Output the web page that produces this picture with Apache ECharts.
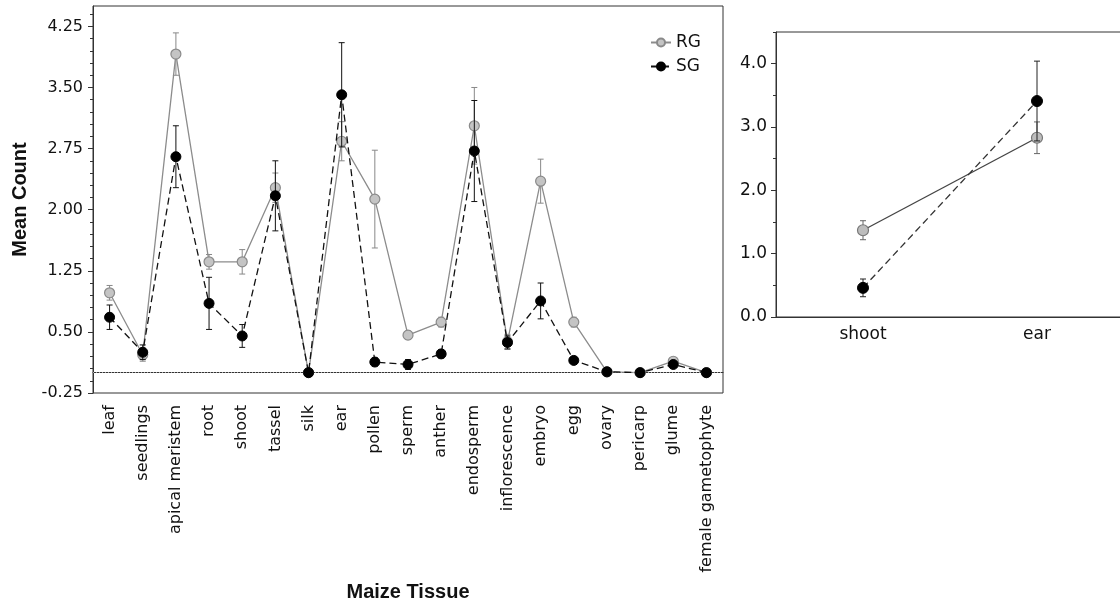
<!DOCTYPE html>
<html>
<head>
<meta charset="utf-8">
<script src="https://cdn.jsdelivr.net/npm/echarts@6/dist/echarts.min.js"></script>
<style>html,body{margin:0;padding:0;background:#fff;}#c{width:1120px;height:604px;}</style>
</head>
<body>
<div id="c"></div>
<script>
// ---- data ----
const tissues = ['leaf','seedlings','apical meristem','root','shoot','tassel','silk','ear','pollen','sperm','anther','endosperm','inflorescence','embryo','egg','ovary','pericarp','glume','female gametophyte'];
const rgMean = [0.98, 0.22, 3.91, 1.36, 1.36, 2.27, 0.00, 2.84, 2.13, 0.46, 0.62, 3.03, 0.38, 2.35, 0.62, 0.01, 0.00, 0.14, 0.00];
const rgErr  = [0.09, 0.08, 0.26, 0.09, 0.15, 0.18, 0.00, 0.24, 0.60, 0.05, 0.06, 0.47, 0.09, 0.27, 0.06, 0.01, 0.00, 0.03, 0.00];
const sgMean = [0.68, 0.25, 2.65, 0.85, 0.45, 2.17, 0.00, 3.41, 0.13, 0.10, 0.23, 2.72, 0.37, 0.88, 0.15, 0.01, 0.00, 0.10, 0.00];
const sgErr  = [0.15, 0.09, 0.38, 0.32, 0.14, 0.43, 0.00, 0.64, 0.05, 0.06, 0.05, 0.62, 0.08, 0.22, 0.03, 0.01, 0.00, 0.03, 0.00];

const subTissues = ['shoot','ear'];
const rgSubMean = [1.37, 2.83];
const rgSubErr  = [0.15, 0.25];
const sgSubMean = [0.46, 3.41];
const sgSubErr  = [0.14, 0.63];

const leftMajorTicks = [-0.25, 0.5, 1.25, 2.0, 2.75, 3.5, 4.25];
const leftMinorTicks = [-0.1, 0.05, 0.2, 0.35, 0.65, 0.8, 0.95, 1.1, 1.4, 1.55, 1.7, 1.85, 2.15, 2.3, 2.45, 2.6, 2.9, 3.05, 3.2, 3.35, 3.65, 3.8, 3.95, 4.1, 4.4];
const rightMajorTicks = [0, 1, 2, 3, 4];
const rightMinorTicks = [0.5, 1.5, 2.5, 3.5, 4.5];

// ---- helpers ----
function errData(mean, err) {
  return mean.map((m, i) => [i, m - err[i], m + err[i]]);
}
function errSeries(xi, yi, mean, err, color, z) {
  return {
    type: 'custom', xAxisIndex: xi, yAxisIndex: yi, z: z, silent: true,
    data: errData(mean, err),
    encode: { x: 0, y: [1, 2] },
    renderItem: function (params, api) {
      const lo = api.coord([api.value(0), api.value(1)]);
      const hi = api.coord([api.value(0), api.value(2)]);
      if (Math.abs(lo[1] - hi[1]) < 1) return { type: 'group', children: [] };
      const w = 3;
      const st = { stroke: color, lineWidth: 1 };
      return {
        type: 'group',
        children: [
          { type: 'line', shape: { x1: lo[0], y1: lo[1], x2: hi[0], y2: hi[1] }, style: st },
          { type: 'line', shape: { x1: hi[0] - w, y1: hi[1], x2: hi[0] + w, y2: hi[1] }, style: st },
          { type: 'line', shape: { x1: lo[0] - w, y1: lo[1], x2: lo[0] + w, y2: lo[1] }, style: st }
        ]
      };
    }
  };
}

const tickFont = 'DejaVu Sans';
const titleFont = 'Liberation Sans';
const axisCol = '#333';

const chart = echarts.init(document.getElementById('c'), null, { renderer: 'canvas' });

const option = {
  animation: false,
  backgroundColor: '#fff',
  grid: [
    { left: 93, top: 6, width: 630, height: 387, show: true, borderColor: axisCol, borderWidth: 1, containLabel: false, outerBoundsMode: 'none' },
    { left: 776, top: 32, width: 348, height: 285, show: true, borderColor: axisCol, borderWidth: 1, containLabel: false, outerBoundsMode: 'none' }
  ],
  legend: {
    data: ['RG', 'SG'],
    orient: 'vertical',
    left: 645, top: 29,
    itemWidth: 20, itemHeight: 10, itemGap: 7,
    textStyle: { fontFamily: tickFont, fontSize: 17, color: '#111', padding: [0, 0, 0, 0] }
  },
  xAxis: [
    {
      type: 'category', gridIndex: 0, data: tissues, boundaryGap: true,
      axisLine: { lineStyle: { color: axisCol, width: 1 } },
      axisTick: { alignWithLabel: true, length: 5, lineStyle: { color: axisCol } },
      axisLabel: { rotate: 90, margin: 12, fontFamily: tickFont, fontSize: 16, color: '#111', interval: 0 },
      name: 'Maize Tissue', nameLocation: 'middle', nameGap: 189,
      nameTextStyle: { fontFamily: titleFont, fontWeight: 'bold', fontSize: 20, color: '#111' },
      splitLine: { show: false }
    },
    {
      type: 'category', gridIndex: 1, data: subTissues, boundaryGap: true,
      axisLine: { lineStyle: { color: axisCol, width: 1 } },
      axisTick: { alignWithLabel: true, length: 5, lineStyle: { color: axisCol } },
      axisLabel: { margin: 9, fontFamily: tickFont, fontSize: 17, color: '#111' },
      splitLine: { show: false }
    }
  ],
  yAxis: [
    {
      type: 'value', gridIndex: 0, min: -0.25, max: 4.5,
      axisLine: { show: true, lineStyle: { color: axisCol, width: 1 } },
      axisTick: { show: true, length: 5, customValues: leftMajorTicks, lineStyle: { color: axisCol } },
      axisLabel: { customValues: leftMajorTicks, margin: 10, fontFamily: tickFont, fontSize: 16, color: '#111',
        formatter: v => v.toFixed(2) },
      splitLine: { show: false },
      name: 'Mean Count', nameLocation: 'middle', nameGap: 63, nameRotate: 90,
      nameTextStyle: { fontFamily: titleFont, fontWeight: 'bold', fontSize: 20, color: '#111' }
    },
    {
      type: 'value', gridIndex: 0, min: -0.25, max: 4.5, position: 'left',
      axisLine: { show: false },
      axisTick: { show: true, length: 3, customValues: leftMinorTicks, lineStyle: { color: axisCol } },
      axisLabel: { show: false },
      splitLine: { show: false }
    },
    {
      type: 'value', gridIndex: 1, min: 0, max: 4.5,
      axisLine: { show: true, lineStyle: { color: axisCol, width: 1 } },
      axisTick: { show: true, length: 5, customValues: rightMajorTicks, lineStyle: { color: axisCol } },
      axisLabel: { customValues: rightMajorTicks, margin: 9, fontFamily: tickFont, fontSize: 17, color: '#111',
        formatter: v => v.toFixed(1) },
      splitLine: { show: false }
    },
    {
      type: 'value', gridIndex: 1, min: 0, max: 4.5, position: 'left',
      axisLine: { show: false },
      axisTick: { show: true, length: 3, customValues: rightMinorTicks, lineStyle: { color: axisCol } },
      axisLabel: { show: false },
      splitLine: { show: false }
    }
  ],
  series: [
    errSeries(0, 0, rgMean, rgErr, '#888', 2),
    {
      name: 'RG', type: 'line', xAxisIndex: 0, yAxisIndex: 0, data: rgMean, z: 3,
      symbol: 'circle', symbolSize: 10,
      lineStyle: { color: '#8c8c8c', width: 1.3 },
      itemStyle: { color: '#c4c4c4', borderColor: '#8a8a8a', borderWidth: 1.2 },
      markLine: {
        silent: true, symbol: 'none', label: { show: false },
        lineStyle: { type: [1, 2], color: '#aaa', width: 1 },
        data: [{ yAxis: 0 }]
      }
    },
    errSeries(0, 0, sgMean, sgErr, '#111', 4),
    {
      name: 'SG', type: 'line', xAxisIndex: 0, yAxisIndex: 0, data: sgMean, z: 5,
      symbol: 'circle', symbolSize: 10,
      lineStyle: { color: '#111', width: 1.3, type: [7, 4] },
      itemStyle: { color: '#000', borderColor: '#000', borderWidth: 1 }
    },
    errSeries(1, 2, rgSubMean, rgSubErr, '#666', 2),
    {
      name: 'RG', type: 'line', xAxisIndex: 1, yAxisIndex: 2, data: rgSubMean, z: 3,
      symbol: 'circle', symbolSize: 11,
      lineStyle: { color: '#444', width: 1.3 },
      itemStyle: { color: '#bdbdbd', borderColor: '#777', borderWidth: 1.2 }
    },
    errSeries(1, 2, sgSubMean, sgSubErr, '#222', 4),
    {
      name: 'SG', type: 'line', xAxisIndex: 1, yAxisIndex: 2, data: sgSubMean, z: 5,
      symbol: 'circle', symbolSize: 11,
      lineStyle: { color: '#333', width: 1.3, type: [7, 4] },
      itemStyle: { color: '#000', borderColor: '#000', borderWidth: 1 }
    }
  ]
};
chart.setOption(option);
</script>
</body>
</html>
